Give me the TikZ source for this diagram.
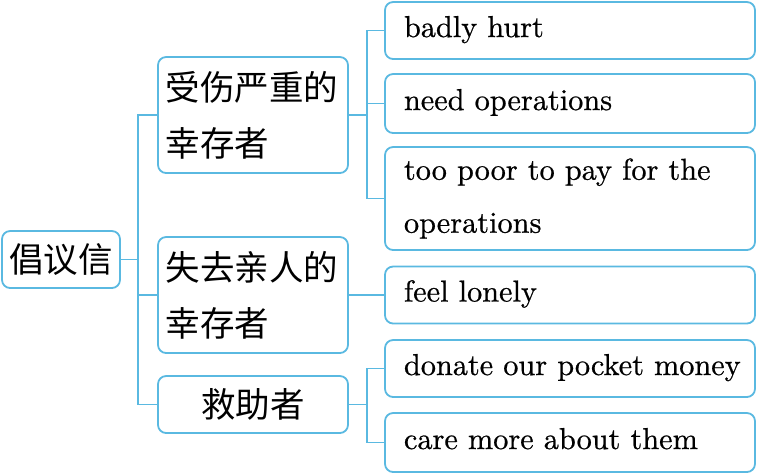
\documentclass[tikz,border=0pt]{standalone}
\usepackage{fontspec}
\newfontfamily\cjkfont{Noto Sans CJK SC}
\newfontfamily\leaffont{lmroman10-regular.otf}[FakeBold=0.6]
\definecolor{linecol}{RGB}{90,185,225}
\begin{document}
\begin{tikzpicture}[x=0.33333pt,y=-0.33333pt,
  box/.style={draw=linecol, line width=0.6pt, rounded corners=2.7pt, fill=white, inner sep=0pt},
  leaf/.style={box, minimum width=123.33pt, minimum height=19pt, text width=110.67pt, align=left, font=\fontsize{10.1}{17.67}\selectfont\leaffont},
  one/.style={text height=6.5pt, text depth=2.16pt},
  mid/.style={box, minimum width=63.33pt, font=\fontsize{11.5}{18.67}\selectfont\cjkfont},
  conn/.style={draw=linecol, line width=0.6pt}]
\useasboundingbox (0,0) rectangle (757,473);
\coordinate (s1) at (138,0);
\coordinate (s2) at (367,0);
% root
\node[mid, minimum width=39.33pt, minimum height=19pt] (root) at (61,259.5) {倡议信};
% level 2
\node[mid, minimum height=38.67pt, text width=58pt, align=left] (a1) at (253,115) {受伤严重的\\幸存者};
\node[mid, minimum height=38.67pt, text width=58pt, align=left] (a2) at (253,295) {失去亲人的\\幸存者};
\node[mid, minimum height=19pt] (a3) at (253,404.5) {救助者};
% leaves
\node[leaf, one] (b1) at (570,30.5) {badly hurt};
\node[leaf, one, minimum height=19.67pt] (b2) at (570,103.5) {need operations};
\node[leaf, minimum height=34.33pt] (b3) at (570,198.5) {too poor to pay for the\\operations};
\node[leaf, one] (b4) at (570,295) {feel lonely};
\node[leaf, one] (b5) at (570,368.5) {\mbox{donate our pocket money}};
\node[leaf, one, minimum height=19.67pt] (b6) at (570,442.5) {care more about them};
% connectors
\draw[conn] (root.east) -- (root.east -| s1);
\draw[conn] (a1.west) -| (s1 |- a3.west) -- (a3.west);
\draw[conn] (a2.west) -- (a2.west -| s1);
\draw[conn] (a1.east) -- (a1.east -| s2);
\draw[conn] (b1.west) -| (s2 |- b3.west) -- (b3.west);
\draw[conn] (b2.west) -- (b2.west -| s2);
\draw[conn] (a2.east) -- (b4.west);
\draw[conn] (a3.east) -- (a3.east -| s2);
\draw[conn] (b5.west) -| (s2 |- b6.west) -- (b6.west);
\end{tikzpicture}
\end{document}
